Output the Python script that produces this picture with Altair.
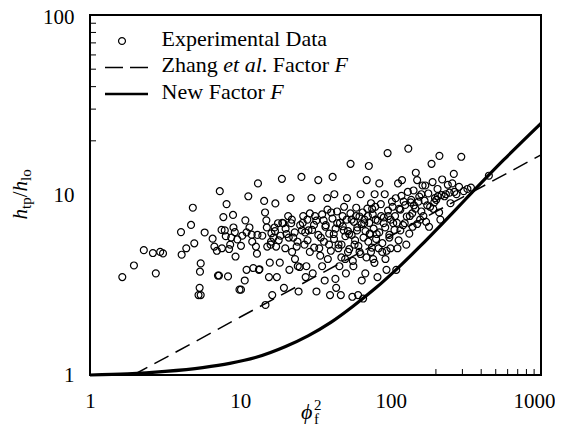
import altair as alt
import pandas as pd

FONT = "Liberation Serif"

# ---- Experimental data: phi_f^2 (x) and h_tp/h_lo (y) ----
exp_x = [1.64, 1.96, 2.28, 2.62, 2.74, 2.93, 3.06, 4.07, 4.03, 4.37, 4.70, 4.83, 4.94, 5.39, 5.36,
         5.27, 5.45, 5.45, 5.79, 6.54, 6.72, 6.98, 7.21, 7.10, 7.30, 7.54, 7.71, 7.88, 8.10, 8.28,
         8.42, 8.56, 8.70, 8.94, 9.19, 9.29, 9.55, 9.87, 10.1, 10.1, 10.3, 10.7, 10.8, 11.0, 11.3,
         11.5, 11.9, 12.2, 12.7, 12.9, 13.1, 13.3, 13.4, 14.0, 14.4, 14.6, 14.9, 15.1, 15.5, 15.7,
         15.9, 16.1, 16.3, 14.7, 16.6, 16.9, 17.1, 17.3, 17.5, 17.8, 18.3, 18.5, 18.9, 19.3, 19.5,
         19.9, 20.3, 20.8, 21.2, 21.6, 21.8, 22.1, 22.5, 23.1, 23.7, 24.1, 24.4, 24.8, 25.5, 25.7,
         26.2, 26.7, 27.2, 27.5, 27.9, 28.4, 29.0, 29.7, 30.3, 30.9, 31.4, 32.1, 33.0, 33.5, 34.3,
         35.0, 35.8, 36.4, 36.8, 37.8, 38.2, 38.9, 39.5, 40.2, 41.1, 41.8, 42.2, 42.9, 43.4, 44.1,
         44.9, 45.6, 46.6, 47.1, 47.9, 48.7, 49.8, 50.4, 51.2, 52.0, 52.9, 54.1, 55.0, 55.6, 56.5,
         57.5, 58.8, 59.7, 60.7, 62.1, 63.1, 64.2, 65.6, 66.7, 67.8, 69.3, 70.5, 71.6, 72.4, 74.0,
         75.3, 76.5, 78.2, 79.5, 80.8, 81.7, 83.1, 84.0, 86.4, 87.8, 89.8, 91.3, 92.3, 93.8, 95.4,
         96.4, 98.0, 99.7, 102, 104, 107, 109, 111, 112, 114, 116, 119, 122, 124, 127,
         131, 134, 137, 140, 143, 147, 150, 153, 157, 160, 165, 170, 175, 180, 187,
         192, 197, 201, 206, 211, 214, 220, 228, 233, 246, 257, 263, 274, 295, 306,
         324, 342, 450,
         26, 27, 28, 29, 30, 31, 32, 33, 34, 35, 36, 37, 38, 39, 40,
         41, 42, 43, 44, 45, 46, 47, 48, 49, 50, 51, 52, 53, 54, 55,
         56, 57, 58, 59, 60, 61, 62, 63, 64, 65, 66, 67, 68, 69, 70,
         71, 72, 73, 74, 75, 76, 77, 78, 79, 80, 82, 84, 86, 88, 90,
         92, 94, 96, 98, 100, 103, 106, 108, 110, 113, 116, 118, 121, 125, 128,
         130, 133, 136, 139, 142, 146, 150, 155, 160, 163, 168, 172, 178, 183, 190,
         195, 205, 210, 218, 240, 250, 265, 285, 20, 21, 22, 23, 24, 25, 17,
         18, 19, 15, 16, 13, 12, 11, 9, 8, 7.5]
exp_y = [3.50, 4.06, 4.94, 4.76, 3.67, 4.83, 4.74, 4.66, 6.22, 5.06, 6.82, 8.50, 5.39, 3.75, 3.05,
         2.78, 2.78, 4.17, 6.19, 5.72, 5.17, 4.90, 3.57, 3.57, 10.5, 5.06, 7.54, 6.36, 8.90, 3.53,
         5.01, 5.30, 5.80, 7.75, 6.22, 4.55, 5.67, 2.98, 2.98, 5.22, 5.94, 3.35, 7.23, 3.84, 9.84,
         6.60, 6.02, 3.93, 5.17, 4.72, 11.6, 3.84, 3.87, 5.94, 9.27, 8.00, 7.23, 5.17, 3.50, 4.21,
         5.30, 6.13, 2.78, 2.45, 5.80, 6.60, 8.98, 5.17, 3.50, 6.97, 4.21, 5.94, 12.3, 6.97, 3.05,
         5.06, 6.07, 7.64, 3.84, 9.62, 6.97, 4.83, 5.80, 4.41, 5.17, 4.02, 2.91, 3.98, 12.6, 6.36,
         7.64, 5.30, 3.50, 4.02, 7.30, 6.36, 4.83, 9.62, 3.67, 6.82, 7.64, 2.91, 12.1, 5.06, 5.80,
         4.02, 7.23, 3.35, 6.66, 9.62, 4.41, 5.30, 2.78, 8.00, 12.6, 6.07, 10.1, 3.42, 3.05, 6.97,
         5.06, 4.02, 2.78, 5.30, 7.64, 6.36, 4.41, 3.67, 9.62, 4.83, 6.07, 14.9, 7.30, 2.72, 4.02,
         5.30, 7.64, 6.36, 2.78, 4.83, 10.1, 3.35, 2.66, 6.97, 3.67, 12.1, 7.64, 14.5, 6.07, 4.83,
         8.38, 4.41, 10.1, 7.30, 6.07, 3.50, 5.06, 11.6, 7.64, 4.83, 6.97, 10.1, 4.41, 3.84, 17.1,
         7.64, 5.80, 5.06, 9.19, 6.97, 7.64, 3.84, 5.06, 11.6, 8.38, 6.36, 12.1, 9.19, 6.97, 5.30,
         18.1, 7.64, 9.40, 6.66, 8.77, 13.3, 12.1, 9.19, 7.30, 10.1, 7.64, 11.3, 8.77, 6.66, 14.9,
         8.38, 9.62, 9.40, 9.84, 16.5, 7.30, 12.2, 9.84, 10.1, 10.3, 11.6, 13.1, 10.1, 16.3, 10.5,
         10.8, 11.0, 12.8,
         7.0, 6.2, 5.6, 7.9, 6.4, 5.1, 7.2, 6.0, 4.6, 7.8, 5.5, 6.8, 8.3, 6.1, 4.9,
         7.4, 5.7, 6.5, 8.1, 5.3, 7.0, 4.5, 6.7, 8.6, 5.9, 7.3, 6.3, 5.0, 7.9, 6.0,
         4.3, 7.1, 5.6, 8.5, 6.6, 5.2, 7.6, 4.7, 6.9, 8.0, 5.8, 7.3, 6.3, 4.5, 8.4,
         5.5, 7.0, 6.1, 9.0, 5.1, 7.8, 6.5, 4.2, 8.6, 5.7, 7.2, 6.2, 8.9, 5.4, 7.5,
         6.6, 4.9, 8.2, 6.0, 7.3, 8.6, 6.4, 9.6, 7.0, 5.6, 8.3, 9.9, 6.8, 8.8, 7.6,
         10.4, 6.1, 9.1, 7.9, 10.6, 8.4, 6.9, 9.8, 8.1, 11.3, 9.3, 7.1, 10.2, 8.6, 11.8,
         9.1, 10.8, 8.0, 10.0, 11.4, 9.0, 10.4, 11.1, 6.5, 5.8, 7.3, 6.2, 5.5, 6.8, 6.3,
         5.6, 7.0, 6.6, 5.5, 6.0, 5.5, 6.2, 6.6, 5.9, 6.4]

# ---- Zhang et al. factor F (dashed) ----
zhang_x = [1.94, 5, 10, 30, 100, 300, 1000]
zhang_y = [1.0, 1.53, 2.1, 3.44, 5.92, 9.71, 16.7]

# ---- New factor F (thick solid) ----
new_x = [1, 1.78, 3.16, 5.62, 8.5, 12.6, 20, 28.2, 40, 56.2, 79.4, 112, 158.5, 224, 316, 562, 1000]
new_y = [1.0, 1.014, 1.047, 1.10, 1.16, 1.25, 1.44, 1.65, 1.96, 2.41, 3.04, 3.94, 5.23, 7.03, 9.5,
         15.6, 25.0]

# ---- axis tick values ----
x_major = [1, 10, 100, 1000]
y_major = [1, 10, 100]
y_minor = [20, 30, 40, 50, 60, 70, 80, 90]
x_minor = [200, 300, 400, 500, 600, 700, 800, 900]

W, H = 451, 360

df_exp = pd.DataFrame({"x": exp_x, "y": exp_y})
df_z = pd.DataFrame({"x": zhang_x, "y": zhang_y})
df_n = pd.DataFrame({"x": new_x, "y": new_y})
dummy = pd.DataFrame({"a": [0]})

xs = alt.Scale(type="log", domain=[1, 1000])
ys = alt.Scale(type="log", domain=[1, 100])

xax = alt.Axis(values=x_major, format="d", title=None, grid=False, ticks=False, domain=False,
               labelFont=FONT, labelFontSize=21, labelColor="black", labelPadding=15,
               labelFlush=False, labelOverlap=False,
               labelOffset={"condition": {"test": "datum.value >= 1000", "value": -7}, "value": 0})
yax = alt.Axis(values=y_major, format="d", title=None, grid=False, ticks=False, domain=False,
               labelFont=FONT, labelFontSize=21, labelColor="black", labelPadding=16,
               labelFlush=False, labelOverlap=False,
               labelOffset={"condition": {"test": "datum.value >= 100", "value": 2}, "value": 0})

scatter = alt.Chart(df_exp).mark_point(shape="circle", filled=False, color="black", size=48,
                                       strokeWidth=1.2, opacity=1).encode(
    x=alt.X("x:Q", scale=xs, axis=xax),
    y=alt.Y("y:Q", scale=ys, axis=yax),
)

zhang = alt.Chart(df_z).mark_line(color="black", strokeWidth=1.5, strokeDash=[16, 8]).encode(
    x=alt.X("x:Q", scale=xs), y=alt.Y("y:Q", scale=ys))

newf = alt.Chart(df_n).mark_line(color="black", strokeWidth=3.2, interpolate="monotone").encode(
    x=alt.X("x:Q", scale=xs), y=alt.Y("y:Q", scale=ys))

yminor = alt.Chart(pd.DataFrame({"y": y_minor})).mark_rule(color="black", strokeWidth=1).encode(
    y=alt.Y("y:Q", scale=ys), x=alt.value(0), x2=alt.value(6))
xminor = alt.Chart(pd.DataFrame({"x": x_minor})).mark_rule(color="black", strokeWidth=1).encode(
    x=alt.X("x:Q", scale=xs), y=alt.value(H), y2=alt.value(H - 6))


def txt(s, x, y, size=22, style="normal", angle=0):
    return alt.Chart(dummy).mark_text(text=s, font=FONT, fontSize=size, fontStyle=style,
                                      align="left", baseline="alphabetic", angle=angle,
                                      color="black").encode(x=alt.value(x), y=alt.value(y))


# legend
leg_circle = alt.Chart(dummy).mark_point(shape="circle", filled=False, color="black", size=48,
                                         strokeWidth=1.2, opacity=1).encode(
    x=alt.value(32), y=alt.value(26))
leg_dash = alt.Chart(dummy).mark_rule(color="black", strokeWidth=1.6, strokeDash=[18, 7]).encode(
    x=alt.value(15), x2=alt.value(58), y=alt.value(52.5))
leg_solid = alt.Chart(dummy).mark_rule(color="black", strokeWidth=2.6).encode(
    x=alt.value(15), x2=alt.value(58), y=alt.value(79))

legend_texts = [
    txt("Experimental Data", 71.6, 30.5),
    txt("Zhang", 71.6, 57),
    txt("et al", 133.3, 57, style="italic"),
    txt(". Factor", 171.8, 57),
    txt("F", 244.5, 57, style="italic"),
    txt("New Factor", 71.6, 83.5),
    txt("F", 180.3, 83.5, style="italic"),
]

# y-axis title  h_tp / h_lo  (rotated)
ytitle = [
    txt("h", -63, 204.5, 21, "italic", 270),
    txt("tp", -59, 194, 15, "normal", 270),
    txt("/", -63, 182.3, 21, "normal", 270),
    txt("h", -63, 176.5, 21, "italic", 270),
    txt("lo", -59, 166, 15, "normal", 270),
]

# x-axis title  phi_f^2
xtitle = [
    txt("\u03d5", 211, 404, 22, "italic"),
    txt("f", 224, 409, 15, "normal"),
    txt("2", 224, 395, 15, "normal"),
]

chart = alt.layer(
    scatter, zhang, newf, yminor, xminor, leg_circle, leg_dash, leg_solid,
    *legend_texts, *ytitle, *xtitle
).properties(
    width=W, height=H,
    autosize=alt.AutoSizeParams(type="none"),
    padding={"left": 82, "top": 7, "right": 14, "bottom": 52},
).configure(background="white").configure_view(stroke="black", strokeWidth=2)

chart.save("out.html", embed_options={"renderer": "svg", "actions": False})
